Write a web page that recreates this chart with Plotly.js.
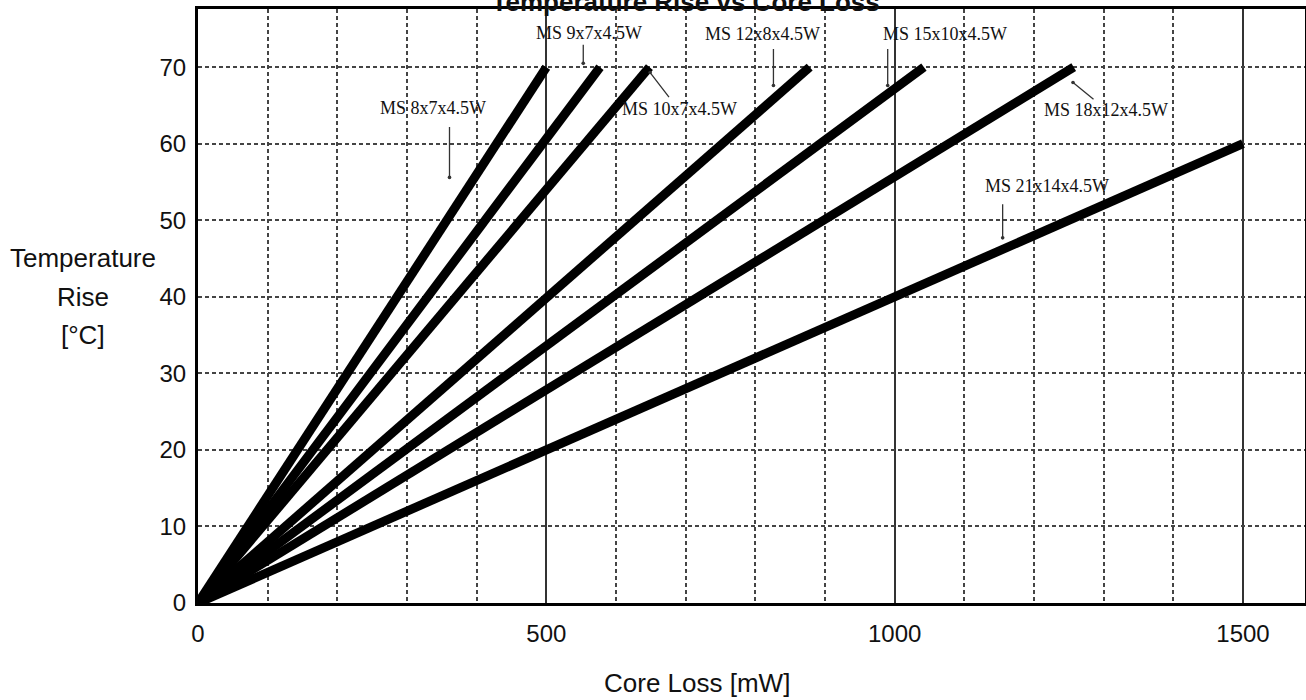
<!DOCTYPE html>
<html>
<head>
<meta charset="utf-8">
<script src="https://cdn.plot.ly/plotly-3.0.1.min.js"></script>
<style>
  html, body { margin: 0; padding: 0; background: #fff; }
  #chart { width: 1306px; height: 700px; }
</style>
</head>
<body>
<div id="chart"></div>
<script>
// ---- Data ----
const cores = ['MS 8x7x4.5W', 'MS 9x7x4.5W', 'MS 10x7x4.5W', 'MS 12x8x4.5W', 'MS 15x10x4.5W', 'MS 18x12x4.5W', 'MS 21x14x4.5W'];
const coreLossStart = [0, 0, 0, 0, 0, 0, 0];          // mW
const tempRiseStart = [0, 0, 0, 0, 0, 0, 0];          // °C
const coreLossEnd = [500, 577, 648, 878, 1042, 1257, 1500]; // mW
const tempRiseEnd = [70, 70, 70, 70, 70, 70, 60];     // °C
// points on/near each curve that each label's arrow marks
const labelPointX = [361, 553, 649, 826, 990, 1256, 1155];
const labelPointY = [55.6, 70.5, 69.3, 67.6, 67.6, 68, 47.7];
const xTickVals = [0, 500, 1000, 1500];
const xTickText = ['0', '500', '1000', '1500'];
const yTitleLines = ['Temperature', 'Rise', '[°C]'];

// ---- Styling / placement (not data) ----
// pixel offset of the arrow tail from the marked point
const arrowTail = [[0, -52], [0, -20], [20, 26], [0, -38], [0, -38], [22, 18], [0, -35]];
// pixel offset of each label centre from the marked point
const labelCentre = [[-17, -69], [6, -30], [29, 36], [-11, -52], [57, -52], [33, 28], [44, -52]];

const traces = cores.map((name, i) => ({
  type: 'scatter',
  mode: 'lines',
  name: name,
  x: [coreLossStart[i], coreLossEnd[i]],
  y: [tempRiseStart[i], tempRiseEnd[i]],
  line: { color: '#000', width: 9 },
  hoverinfo: 'x+y+name'
}));

const labelFont = { family: 'Liberation Serif, Times New Roman, serif', size: 18, color: '#111' };
const annotations = [];
cores.forEach((name, i) => {
  annotations.push({
    x: labelPointX[i], y: labelPointY[i], xref: 'x', yref: 'y',
    text: '', showarrow: true,
    arrowhead: 6, arrowsize: 0.7, arrowwidth: 1.3, arrowcolor: '#333',
    standoff: 0, startstandoff: 0,
    ax: arrowTail[i][0], ay: arrowTail[i][1]
  });
  annotations.push({
    x: labelPointX[i], y: labelPointY[i], xref: 'x', yref: 'y',
    text: name, showarrow: false,
    xshift: labelCentre[i][0], yshift: -labelCentre[i][1],
    xanchor: 'center', yanchor: 'middle',
    font: labelFont
  });
});

const axisFont = { family: 'Liberation Sans, Arial, sans-serif', size: 24, color: '#111' };
const titleFont = { family: 'Liberation Sans, Arial, sans-serif', size: 26, color: '#111' };
const yTitleY = [0.5808, 0.5152, 0.4512];
yTitleLines.forEach((t, i) => {
  annotations.push({
    xref: 'paper', yref: 'paper', x: -0.1039, y: yTitleY[i],
    xanchor: 'center', yanchor: 'middle',
    text: t, showarrow: false, font: titleFont
  });
});
annotations.push({
  xref: 'paper', yref: 'paper', x: 0.4508, y: -0.1347,
  xanchor: 'center', yanchor: 'middle',
  text: 'Core Loss [mW]', showarrow: false,
  font: titleFont
});

const layout = {
  width: 1306, height: 700,
  paper_bgcolor: '#fff', plot_bgcolor: '#fff',
  margin: { l: 198, r: 1, t: 9, b: 97 },
  showlegend: false,
  title: {
    text: 'Temperature Rise vs Core Loss',
    font: { family: 'Liberation Sans, Arial, sans-serif', size: 26, color: '#111', weight: 'bold' },
    x: 0.525, xanchor: 'center', xref: 'container',
    y: 0.998, yanchor: 'middle', yref: 'container'
  },
  xaxis: {
    range: [0, 1589],
    tickmode: 'array', tickvals: xTickVals, ticktext: xTickText,
    showgrid: true, gridcolor: '#333', gridwidth: 1.5,
    minor: { tick0: 0, dtick: 100, showgrid: true, gridcolor: '#444', gridwidth: 1.5, griddash: '4px,3px', ticks: '' },
    showline: true, linecolor: '#000', linewidth: 3, mirror: true,
    zeroline: false, ticks: '',
    ticklabelstandoff: 7,
    tickfont: axisFont,
    fixedrange: true
  },
  yaxis: {
    range: [0, 77.6],
    tick0: 0, dtick: 10,
    showgrid: true, gridcolor: '#444', gridwidth: 1.5, griddash: '4px,3px',
    showline: true, linecolor: '#000', linewidth: 3, mirror: true,
    zeroline: false, ticks: '',
    ticklabelstandoff: 4,
    tickfont: axisFont,
    fixedrange: true
  },
  annotations: annotations
};

Plotly.newPlot('chart', traces, layout, { displayModeBar: false });
</script>
</body>
</html>
